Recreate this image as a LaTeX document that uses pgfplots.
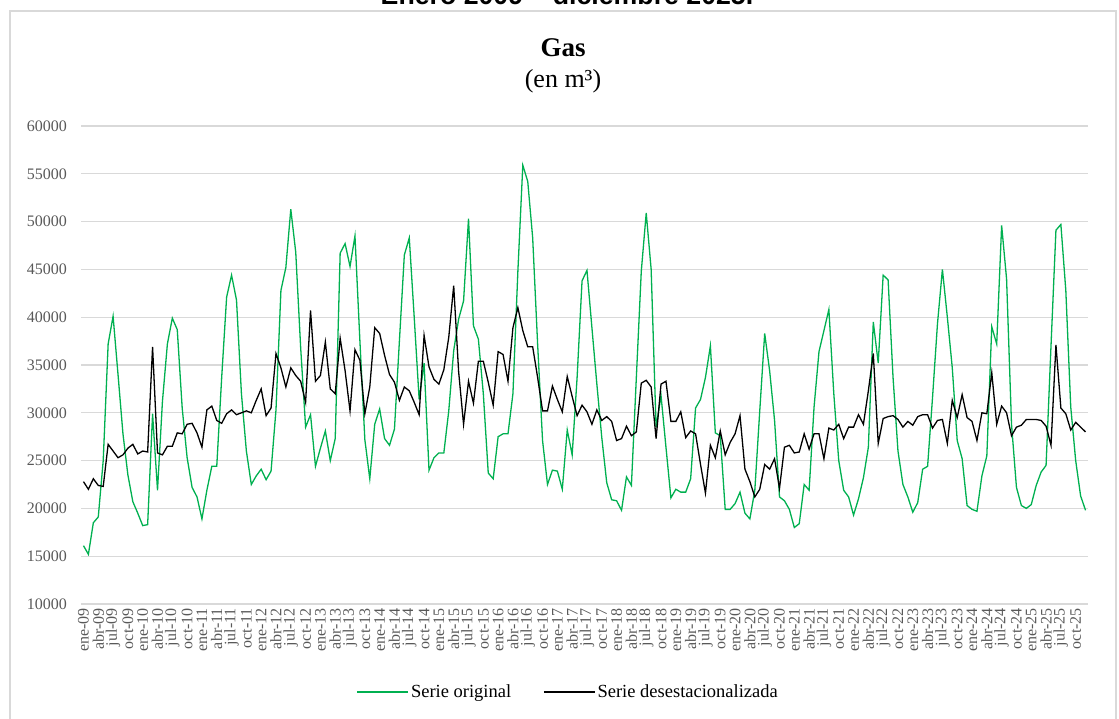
\documentclass[border=0pt]{standalone}
\usepackage{pgfplots}
\pgfplotsset{compat=1.18}
\usepackage{pgfplotstable}
\usepackage{fontspec}
\setmainfont{Liberation Serif}
\newfontfamily\arialfont{Liberation Sans}
\definecolor{ggreen}{HTML}{00B050}
\definecolor{gridgray}{HTML}{D9D9D9}
\definecolor{tickgray}{HTML}{595959}

\pgfplotstableread{
x o s
0 16100 22800
1 15200 22000
2 18500 23100
3 19100 22400
4 25000 22300
5 37200 26700
6 40100 26000
7 34000 25300
8 27800 25600
9 23500 26300
10 20700 26700
11 19500 25700
12 18200 26000
13 18300 25900
14 29900 36900
15 21900 25800
16 31200 25600
17 37200 26500
18 39900 26500
19 38700 27900
20 30500 27800
21 25300 28800
22 22200 28900
23 21200 27900
24 18900 26400
25 21900 30300
26 24400 30700
27 24400 29200
28 33700 28900
29 42100 29900
30 44400 30300
31 41800 29800
32 32000 30000
33 26000 30200
34 22500 30000
35 23400 31300
36 24100 32500
37 23000 29700
38 23900 30500
39 30300 36200
40 42800 34700
41 45200 32700
42 51300 34700
43 46800 33900
44 36800 33300
45 28500 31100
46 29800 40700
47 24400 33300
48 26300 33900
49 28100 37400
50 25000 32500
51 27300 32000
52 46700 37800
53 47700 34400
54 45300 30200
55 48500 36600
56 37500 35500
57 27200 29900
58 23100 32700
59 28800 38900
60 30400 38300
61 27300 36000
62 26600 34000
63 28300 33200
64 37500 31300
65 46500 32700
66 48300 32300
67 40000 31100
68 31400 29800
69 35200 38100
70 24000 34800
71 25300 33500
72 25800 33000
73 25800 34500
74 30200 37900
75 36500 43300
76 39800 34300
77 41700 28800
78 50300 33300
79 39100 31000
80 37700 35400
81 32000 35400
82 23700 33200
83 23100 30800
84 27500 36400
85 27800 36100
86 27800 33300
87 32000 38900
88 44800 41000
89 55900 38600
90 54200 36900
91 48300 36900
92 37200 33700
93 27100 30200
94 22500 30200
95 24000 32800
96 23900 31400
97 22000 30100
98 28200 33800
99 25600 31700
100 33700 29700
101 43800 30800
102 44900 30100
103 38900 28800
104 33000 30300
105 27400 29200
106 22700 29600
107 20900 29100
108 20800 27100
109 19800 27300
110 23300 28600
111 22400 27600
112 33700 28000
113 44800 33100
114 50900 33400
115 45000 32700
116 28500 27300
117 31800 33000
118 26400 33300
119 21100 29100
120 22000 29100
121 21700 30100
122 21700 27400
123 23100 28100
124 30500 27800
125 31400 24600
126 33700 21600
127 37000 26600
128 27900 25300
129 27600 28100
130 19900 25600
131 19900 26900
132 20500 27800
133 21700 29700
134 19500 24100
135 18900 22800
136 21900 21200
137 30200 22000
138 38300 24600
139 34400 24100
140 29200 25200
141 21200 22100
142 20800 26400
143 19900 26600
144 18000 25800
145 18400 25900
146 22500 27800
147 21900 26200
148 30600 27800
149 36400 27800
150 38600 25200
151 40800 28400
152 32000 28200
153 25000 28800
154 21900 27300
155 21200 28500
156 19300 28500
157 21000 29800
158 23200 28800
159 26400 32300
160 39500 36200
161 35200 26800
162 44400 29400
163 43900 29600
164 33700 29700
165 26000 29300
166 22500 28500
167 21200 29100
168 19600 28700
169 20600 29600
170 24100 29800
171 24400 29800
172 31600 28400
173 39300 29200
174 45000 29300
175 40000 26800
176 34700 31300
177 27100 29500
178 25200 31900
179 20300 29500
180 19900 29100
181 19700 27100
182 23400 30000
183 25500 29900
184 39000 34200
185 37200 28800
186 49600 30700
187 44000 30000
188 28800 27600
189 22200 28500
190 20300 28700
191 20000 29300
192 20400 29300
193 22400 29300
194 23800 29200
195 24500 28600
196 37000 26600
197 49100 37100
198 49700 30500
199 42800 29900
200 30600 28200
201 25000 29000
202 21300 28500
203 19800 28000
}\data

\begin{document}
\begin{tikzpicture}[x=1pt,y=1pt]
\useasboundingbox (0,0) rectangle (1119,719);
\draw[gridgray, line width=1.3pt] (10,-5) -- (10,708) -- (1116,708) -- (1116,-5);
\node[anchor=base, inner sep=0pt, font=\arialfont\bfseries\fontsize{26.7}{30}\selectfont] at (567,714) {Enero 2009 – diciembre 2025.};
\node[anchor=base, inner sep=0pt, font=\bfseries\fontsize{27}{32}\selectfont] at (563,662) {Gas};
\node[anchor=base, inner sep=0pt, font=\fontsize{26}{30}\selectfont] at (563,631) {(en m³)};
\begin{axis}[
  at={(81pt,115pt)}, anchor=south west,
  scale only axis, width=1007pt, height=478pt,
  xmin=-0.5, xmax=203.5, ymin=10000, ymax=60000,
  ytick={10000,15000,...,60000},
  ymajorgrids, grid style={gridgray, line width=1.3pt},
  axis line style={draw=none},
  major tick length=0pt,
  /pgf/number format/assume math mode=true,
  /pgf/number format/1000 sep={},
  scaled y ticks=false,
  tick label style={text=tickgray, font=\fontsize{16}{16}\selectfont},
  yticklabel style={anchor=east, inner sep=0pt, xshift=-14pt},
  xtick={0,3,...,201},
  xticklabels={ene-09,abr-09,jul-09,oct-09,ene-10,abr-10,jul-10,oct-10,ene-11,abr-11,jul-11,oct-11,ene-12,abr-12,jul-12,oct-12,ene-13,abr-13,jul-13,oct-13,ene-14,abr-14,jul-14,oct-14,ene-15,abr-15,jul-15,oct-15,ene-16,abr-16,jul-16,oct-16,ene-17,abr-17,jul-17,oct-17,ene-18,abr-18,jul-18,oct-18,ene-19,abr-19,jul-19,oct-19,ene-20,abr-20,jul-20,oct-20,ene-21,abr-21,jul-21,oct-21,ene-22,abr-22,jul-22,oct-22,ene-23,abr-23,jul-23,oct-23,ene-24,abr-24,jul-24,oct-24,ene-25,abr-25,jul-25,oct-25},
  xticklabel style={rotate=90, anchor=east, inner xsep=4pt, inner ysep=0pt},
  legend style={at={(0.4839,-0.184)}, anchor=center, draw=none, fill=none,
    legend columns=2, font=\fontsize{18.5}{20}\selectfont,
    /tikz/every even column/.append style={column sep=30pt}},
  legend image code/.code={\draw[#1] (0pt,0pt) -- (51pt,0pt);},
  legend cell align=left,
]
\addplot[ggreen, line width=1.3pt] table[x=x,y=o]{\data};
\addlegendentry{Serie original}
\addplot[black, line width=1.3pt] table[x=x,y=s]{\data};
\addlegendentry{Serie desestacionalizada}
\end{axis}
\end{tikzpicture}
\end{document}
